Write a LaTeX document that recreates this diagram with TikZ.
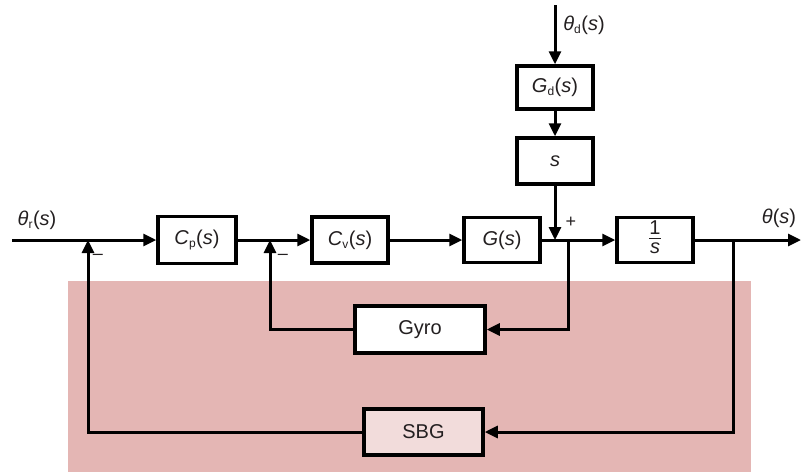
\documentclass[tikz,border=0pt]{standalone}
\usepackage{fontspec}
\setmainfont{Liberation Sans}
\usetikzlibrary{arrows.meta}
\definecolor{txt}{HTML}{231F20}
\definecolor{pinkbg}{HTML}{E4B6B4}
\definecolor{sbgfill}{HTML}{F2DCDB}
\tikzset{
  blk/.style={draw=black, line width=3.5pt, fill=white, minimum width=76pt, minimum height=46pt, inner sep=0pt, text=txt, font=\fontsize{20}{22}\selectfont},
  conn/.style={line width=3pt, draw=black},
  arr/.style={conn, -{Triangle[length=13pt,width=12pt]}},
  lbl/.style={text=txt, font=\fontsize{20}{22}\selectfont, inner sep=0pt},
  sgn/.style={text=txt, font=\fontsize{18}{20}\selectfont, inner sep=0pt}
}
\newcommand{\sub}[1]{\textsubscript{\fontsize{12}{12}\selectfont #1}}
\newcommand{\myfrac}[2]{{\fontsize{20}{20}\selectfont\setlength{\arrayrulewidth}{1.6pt}\setlength{\tabcolsep}{0pt}\renewcommand{\arraystretch}{1}\begin{tabular}{c}#1\\[-3pt]\hline #2\end{tabular}}}
\begin{document}
\begin{tikzpicture}[x=1pt,y=-1pt]
\useasboundingbox (0,0) rectangle (801,472);
\fill[pinkbg] (68,281) rectangle (751,472);

% blocks
\node[blk, minimum width=78pt, minimum height=47pt] (cp) at (197,240) {\textit{C}\sub{p}(\textit{s})};
\node[blk] (cv) at (350,240) {\textit{C}\sub{v}(\textit{s})};
\node[blk, minimum height=45pt] (g) at (502,240) {\textit{G}(\textit{s})};
\node[blk, minimum height=45pt] (int) at (655,240) {\myfrac{1}{\textit{s}}};
\node[blk, minimum height=43pt] (gd) at (555,87.5) {\textit{G}\sub{d}(\textit{s})};
\node[blk] (sb) at (555,161) {\textit{s}};
\node[blk, minimum width=130pt, minimum height=47pt] (gyro) at (420,329.5) {Gyro};
\node[blk, fill=sbgfill, minimum width=119pt] (sbg) at (423.5,432) {SBG};

% coordinates
\coordinate (in) at (12,240);
\coordinate (j1) at (88,240);
\coordinate (j2) at (270,240);
\coordinate (j3) at (555,240);
\coordinate (p1) at (568,240);
\coordinate (p2) at (733,240);
\coordinate (out) at (801,240);
\coordinate (dtop) at (555,5);

% main path
\draw[arr] (in) -- (cp.west);
\draw[arr] (cp.east) -- (cv.west);
\draw[arr] (cv.east) -- (g.west);
\draw[arr] (g.east) -- (int.west);
\draw[arr] (int.east) -- (out);

% disturbance
\draw[arr] (dtop) -- (gd.north);
\draw[arr] (gd.south) -- (sb.north);
\draw[arr] (sb.south) -- (j3);

% gyro loop
\draw[arr] (p1) |- (gyro.east);
\draw[arr] (gyro.west) -| (j2);

% sbg loop
\draw[arr] (p2) |- (sbg.east);
\draw[arr] (sbg.west) -| (j1);

% labels
\node[lbl] (lr) at (37,220) {\textit{θ}\sub{r}(\textit{s})};
\node[lbl] (lo) at (779,218) {\textit{θ}(\textit{s})};
\node[lbl] (ld) at (584,25) {\textit{θ}\sub{d}(\textit{s})};
\node[sgn] (m1) at (98,257) {–};
\node[sgn] (m2) at (283,257) {–};
\node[sgn] (pl) at (571,222) {+};
\end{tikzpicture}
\end{document}
